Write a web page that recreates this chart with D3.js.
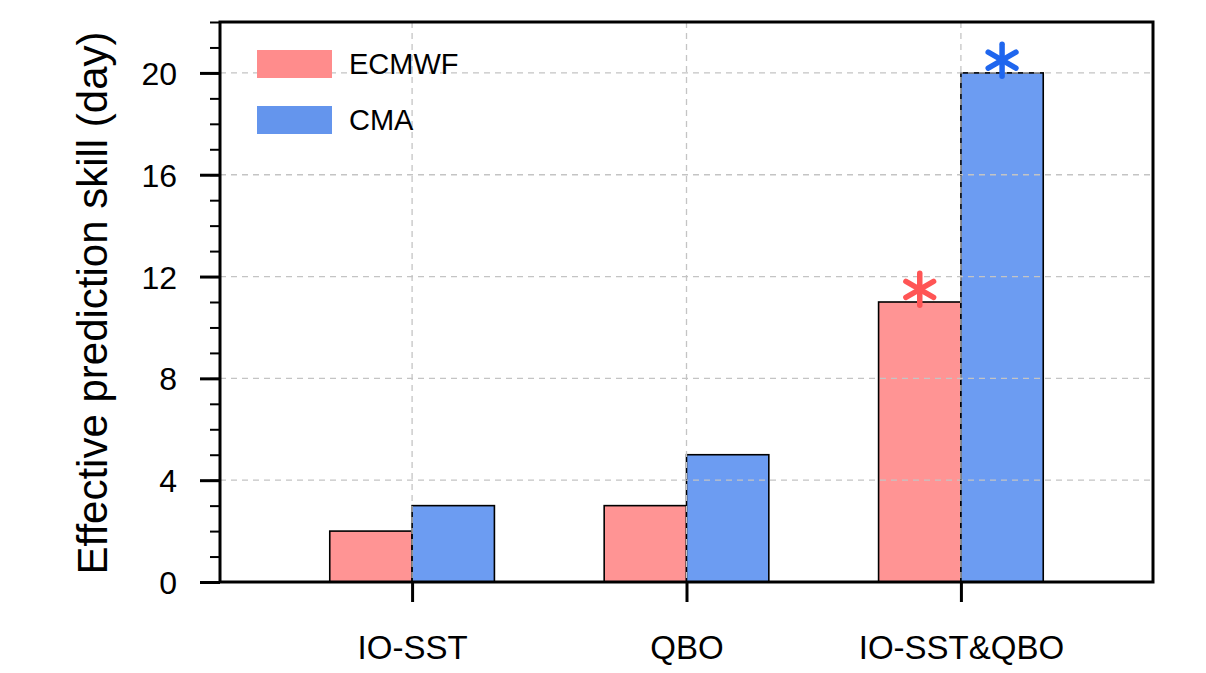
<!DOCTYPE html>
<html>
  <head>
    <meta charset="utf-8" />
    <title>Effective prediction skill</title>
    <style>
      body {
        margin: 0;
        background: #fff;
      }
      svg text {
        font-family: "Liberation Sans", Arial, Helvetica, sans-serif;
        fill: #000;
      }
    </style>
  </head>
  <body>
    <svg class="canvas"></svg>
    <script src="https://cdn.jsdelivr.net/npm/d3@7"></script>
    <script>
      const categories = ["IO-SST", "QBO", "IO-SST&QBO"];
      const seriesNames = ["ECMWF", "CMA"];
      const ecmwf = [2, 3, 11];
      const cma = [3, 5, 20];
      // significant cases get an asterisk: [series index, category index]
      const significant = [
        [0, 2],
        [1, 2],
      ];
      const yTicks = [0, 4, 8, 12, 16, 20];

      const barColors = ["#ff9494", "#6c9cf2"];
      const legendColors = ["#ff8c8c", "#6495ed"];
      const starColors = ["#ff5555", "#1f66ee"];

      const width = 1206,
        height = 673;
      const margin = { left: 220, right: 53, top: 22, bottom: 91 };

      const svg = d3
        .select(".canvas")
        .attr("width", width)
        .attr("height", height);

      const x = d3
        .scaleLinear()
        .domain([0.3, 3.7])
        .range([margin.left, width - margin.right]);
      const y = d3
        .scaleLinear()
        .domain([0, 22])
        .range([height - margin.bottom, margin.top]);

      const barW = x(0.3) - x(0);
      const values = [ecmwf, cma];

      //----------------bars----------------
      values.forEach((vals, s) => {
        svg
          .append("g")
          .selectAll("rect")
          .data(vals)
          .join("rect")
          .attr("x", (d, i) => (s === 0 ? x(i + 1) - barW : x(i + 1)))
          .attr("y", (d) => y(d))
          .attr("width", barW)
          .attr("height", (d) => y(0) - y(d))
          .attr("fill", barColors[s])
          .attr("stroke", "#000")
          .attr("stroke-width", 1.6);
      });

      //----------------grid (on top of bars)----------------
      const grid = svg
        .append("g")
        .attr("stroke", "#c4c4c4")
        .attr("stroke-width", 1.3)
        .attr("stroke-dasharray", "6,5");
      grid
        .selectAll("line.h")
        .data(yTicks.filter((d) => d > 0))
        .join("line")
        .attr("class", "h")
        .attr("x1", x(0.3))
        .attr("x2", x(3.7))
        .attr("y1", (d) => y(d))
        .attr("y2", (d) => y(d));
      grid
        .selectAll("line.v")
        .data(categories)
        .join("line")
        .attr("class", "v")
        .attr("x1", (d, i) => x(i + 1))
        .attr("x2", (d, i) => x(i + 1))
        .attr("y1", y(22))
        .attr("y2", y(0));

      //----------------asterisks----------------
      const armLen = 16;
      significant.forEach(([s, i]) => {
        const cx = s === 0 ? x(i + 1) - barW / 2 : x(i + 1) + barW / 2;
        const cy = y(values[s][i] + 0.5);
        const g = svg
          .append("g")
          .attr("transform", `translate(${cx},${cy})`)
          .attr("stroke", starColors[s])
          .attr("stroke-width", 5.5)
          .attr("stroke-linecap", "round");
        [90, 30, 150].forEach((a) => {
          const r = (a * Math.PI) / 180;
          g.append("line")
            .attr("x1", -armLen * Math.cos(r))
            .attr("y1", -armLen * Math.sin(r))
            .attr("x2", armLen * Math.cos(r))
            .attr("y2", armLen * Math.sin(r));
        });
      });

      //----------------axes----------------
      const yAxis = svg
        .append("g")
        .attr("transform", `translate(${margin.left},0)`);
      yAxis
        .call(
          d3
            .axisLeft(y)
            .tickValues(d3.range(0, 23, 1))
            .tickSize(10)
            .tickFormat("")
        )
        .call((g) => g.select(".domain").remove())
        .selectAll("line")
        .attr("stroke-width", 2);
      yAxis
        .append("g")
        .call(
          d3.axisLeft(y).tickValues(yTicks).tickSize(20).tickPadding(23)
        )
        .call((g) => g.select(".domain").remove())
        .call((g) => g.selectAll("line").attr("stroke-width", 3))
        .call((g) =>
          g
            .selectAll("text")
            .attr("font-size", 32)
            .attr("font-family", null)
            .attr("dy", "0.36em")
        );

      const xAxis = svg
        .append("g")
        .attr("transform", `translate(0,${y(0)})`)
        .call(
          d3
            .axisBottom(x)
            .tickValues([1, 2, 3])
            .tickSize(20)
            .tickPadding(34)
            .tickFormat((d) => categories[d - 1])
        )
        .call((g) => g.select(".domain").remove());
      xAxis.selectAll("line").attr("stroke-width", 3);
      xAxis
        .selectAll("text")
        .attr("font-size", 33)
        .attr("font-family", null);

      // frame
      svg
        .append("rect")
        .attr("x", x(0.3))
        .attr("y", y(22))
        .attr("width", x(3.7) - x(0.3))
        .attr("height", y(0) - y(22))
        .attr("fill", "none")
        .attr("stroke", "#000")
        .attr("stroke-width", 3);

      // y label
      svg
        .append("text")
        .attr(
          "transform",
          `translate(107,${(y(0) + y(22)) / 2 + 1}) rotate(-90)`
        )
        .attr("text-anchor", "middle")
        .attr("font-size", 42)
        .text("Effective prediction skill (day)");

      //----------------legend----------------
      const legend = svg
        .append("g")
        .selectAll("g")
        .data(seriesNames)
        .join("g")
        .attr("transform", (d, i) => `translate(257,${50 + i * 56})`);
      legend
        .append("rect")
        .attr("width", 75)
        .attr("height", 28)
        .attr("fill", (d, i) => legendColors[i]);
      legend
        .append("text")
        .attr("x", 92)
        .attr("y", 14)
        .attr("dy", "0.36em")
        .attr("font-size", 29)
        .text((d) => d);
    </script>
  </body>
</html>
